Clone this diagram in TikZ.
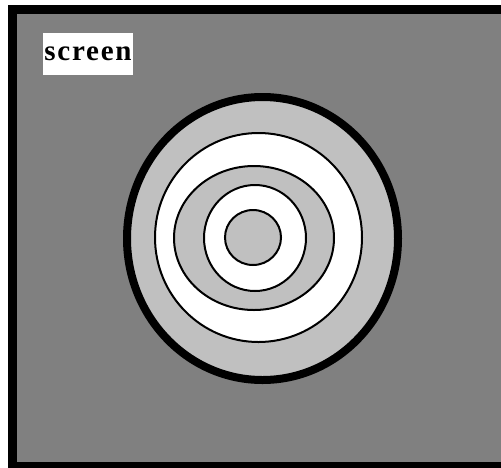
\documentclass[tikz,border=0pt]{standalone}
\usepackage{fontspec}
\setmainfont{Liberation Serif}
\definecolor{screengray}{HTML}{808080}
\definecolor{ringgray}{HTML}{C0C0C0}
\tikzset{
  ring/.style={draw=black, line width=2pt},
  label/.style={fill=white, inner sep=0pt, minimum width=90pt, minimum height=42pt, font=\fontsize{29}{30}\selectfont\bfseries\addfontfeature{LetterSpace=6}}
}
\begin{document}
\begin{tikzpicture}[x=1pt, y=-1pt]
    \useasboundingbox (0,0) rectangle (501,467);

    % Screen with thick frame
    \fill[white] (0,0) rectangle (501,467);
    \draw[line width=8.5pt, fill=screengray] (12.25,9.25) rectangle (512,466.25);

    % Label
    \node[label] (screen) at (88,54) {screen};

    % Rings, from outside in
    \draw[line width=8pt, fill=ringgray] (262.5,238.5) ellipse (135.5 and 141.5);
    \draw[ring, fill=white] (258.5,237.5) ellipse (103.5 and 104.5);
    \draw[ring, fill=ringgray] (254,238) ellipse (80 and 72);
    \draw[ring, fill=white] (255,238) ellipse (51 and 53);
    \draw[ring, fill=ringgray] (253,237.5) ellipse (28 and 27.5);
\end{tikzpicture}
\end{document}
